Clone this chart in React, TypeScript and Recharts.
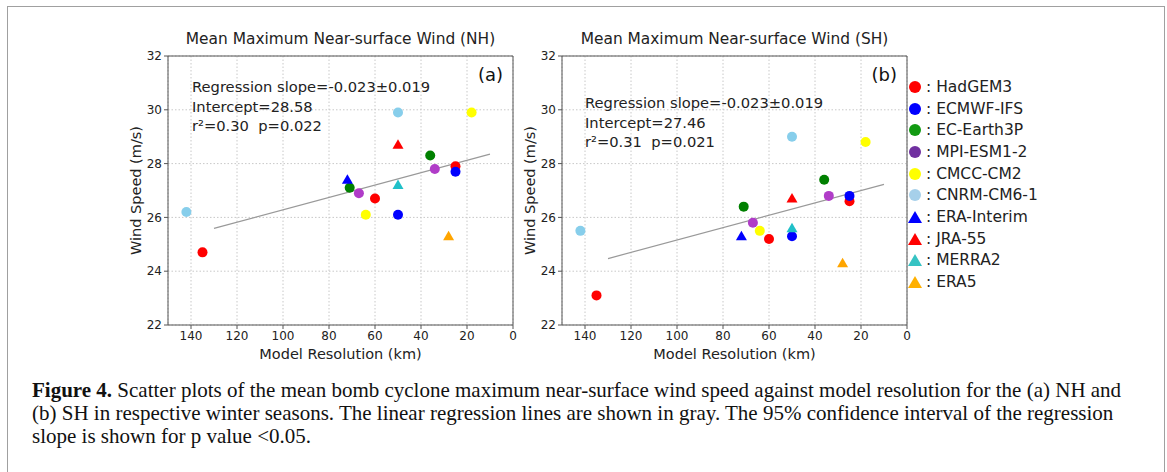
import React from 'react';
import { ScatterChart, Scatter, XAxis, YAxis, CartesianGrid, ReferenceLine } from 'recharts';

// model resolution (km)
const hadgemRes = [135, 60, 25];
const ecmwfRes = [50, 25];
const ecearthRes = [71, 36];
const mpiRes = [67, 34];
const cmccRes = [64, 18];
const cnrmRes = [142, 50];
const eraiRes = [72];
const jraRes = [50];
const merraRes = [50];
const era5Res = [28];

// mean max near-surface wind, NH (m/s)
const hadgemNH = [24.7, 26.7, 27.9];
const ecmwfNH = [26.1, 27.7];
const ecearthNH = [27.1, 28.3];
const mpiNH = [26.9, 27.8];
const cmccNH = [26.1, 29.9];
const cnrmNH = [26.2, 29.9];
const eraiNH = [27.4];
const jraNH = [28.7];
const merraNH = [27.2];
const era5NH = [25.3];

// mean max near-surface wind, SH (m/s)
const hadgemSH = [23.1, 25.2, 26.6];
const ecmwfSH = [25.3, 26.8];
const ecearthSH = [26.4, 27.4];
const mpiSH = [25.8, 26.8];
const cmccSH = [25.5, 28.8];
const cnrmSH = [25.5, 29.0];
const eraiSH = [25.3];
const jraSH = [26.7];
const merraSH = [25.6];
const era5SH = [24.3];

// regression line end points
const fitRes = [130, 10];
const fitNH = [25.59, 28.35];
const fitSH = [24.47, 27.23];

const xTicks = [0, 20, 40, 60, 80, 100, 120, 140];
const yTicks = [22, 24, 26, 28, 30, 32];

const series = [
  { name: 'HadGEM3', color: '#ff0000', key: '#ff0000', tri: false, res: hadgemRes, nh: hadgemNH, sh: hadgemSH },
  { name: 'ECMWF-IFS', color: '#0000ff', key: '#0000ff', tri: false, res: ecmwfRes, nh: ecmwfNH, sh: ecmwfSH },
  { name: 'EC-Earth3P', color: '#008000', key: '#129a12', tri: false, res: ecearthRes, nh: ecearthNH, sh: ecearthSH },
  { name: 'MPI-ESM1-2', color: '#b03cc8', key: '#7030a0', tri: false, res: mpiRes, nh: mpiNH, sh: mpiSH },
  { name: 'CMCC-CM2', color: '#ffff00', key: '#ffff00', tri: false, res: cmccRes, nh: cmccNH, sh: cmccSH },
  { name: 'CNRM-CM6-1', color: '#87ceeb', key: '#a6d0ea', tri: false, res: cnrmRes, nh: cnrmNH, sh: cnrmSH },
  { name: 'ERA-Interim', color: '#0000ff', key: '#0000ff', tri: true, res: eraiRes, nh: eraiNH, sh: eraiSH },
  { name: 'JRA-55', color: '#ff0000', key: '#ff0000', tri: true, res: jraRes, nh: jraNH, sh: jraSH },
  { name: 'MERRA2', color: '#20c0c8', key: '#36c3c3', tri: true, res: merraRes, nh: merraNH, sh: merraSH },
  { name: 'ERA5', color: '#ffa500', key: '#ffb000', tri: true, res: era5Res, nh: era5NH, sh: era5SH },
];

const FONT = '"DejaVu Sans", sans-serif';
const SPINE = '#555';

const zip = (xs: number[], ys: number[]) => xs.map((x, i) => ({ res: x, wind: ys[i] }));

const marker = (color: string, tri: boolean) => (props: any) => {
  const { cx, cy } = props;
  if (tri) {
    return <polygon points={`${cx},${cy - 5.5} ${cx - 5.5},${cy + 4} ${cx + 5.5},${cy + 4}`} fill={color} />;
  }
  return <circle cx={cx} cy={cy} r={5} fill={color} />;
};

const Panel = (props: any) => {
  const { left, hemi, title, lines, letter, textLeft, textTop } = props;
  const fit = zip(fitRes, hemi === 'nh' ? fitNH : fitSH);
  return (
    <div style={{ position: 'absolute', left, top: 20, width: 430, height: 345 }}>
      <ScatterChart width={430} height={345} margin={{ top: 36, right: 17, bottom: 8, left: 8 }}>
        <CartesianGrid stroke="#c8c8c8" strokeDasharray="1.5 2" />
        <XAxis
          type="number"
          dataKey="res"
          domain={[0, 150]}
          reversed
          ticks={xTicks}
          height={32}
          tickSize={4}
          tickMargin={2}
          axisLine={{ stroke: SPINE }}
          tickLine={{ stroke: SPINE }}
          tick={{ fontSize: 12, fill: '#222', fontFamily: FONT }}
          label={{ value: 'Model Resolution (km)', position: 'insideBottom', offset: -2, fontSize: 14.5, fill: '#222', fontFamily: FONT }}
        />
        <YAxis
          type="number"
          dataKey="wind"
          domain={[22, 32]}
          ticks={yTicks}
          width={60}
          tickSize={4}
          tickMargin={2}
          axisLine={{ stroke: SPINE }}
          tickLine={{ stroke: SPINE }}
          tick={{ fontSize: 12, fill: '#222', fontFamily: FONT }}
          label={{ value: 'Wind Speed (m/s)', angle: -90, position: 'center', dx: -2, fontSize: 14.5, fill: '#222', fontFamily: FONT }}
        />
        <ReferenceLine y={32} stroke={SPINE} />
        <ReferenceLine x={0} stroke={SPINE} />
        <Scatter
          data={fit}
          line={{ stroke: '#999', strokeWidth: 1.2 }}
          shape={() => <g />}
          isAnimationActive={false}
        />
        {series.map((s) => (
          <Scatter
            key={s.name}
            name={s.name}
            data={zip(s.res, hemi === 'nh' ? s.nh : s.sh)}
            shape={marker(s.color, s.tri)}
            isAnimationActive={false}
          />
        ))}
      </ScatterChart>
      <div style={{ position: 'absolute', left: 68, top: 10, width: 345, textAlign: 'center', fontFamily: FONT, fontSize: 15.4, color: '#222', whiteSpace: 'nowrap' }}>
        {title}
      </div>
      <div style={{ position: 'absolute', left: textLeft, top: textTop, fontFamily: FONT, fontSize: 14.7, lineHeight: '19.7px', color: '#222', whiteSpace: 'pre' }}>
        {lines.map((l: string) => (
          <div key={l}>{l}</div>
        ))}
      </div>
      <div style={{ position: 'absolute', right: 27, top: 44, fontFamily: FONT, fontSize: 18, color: '#111' }}>{letter}</div>
    </div>
  );
};

const Legend = () => (
  <div style={{ position: 'absolute', left: 907, top: 76, fontFamily: FONT, fontSize: 15.5, color: '#222' }}>
    {series.map((s) => (
      <div key={s.name} style={{ height: 21.7, display: 'flex', alignItems: 'center', whiteSpace: 'nowrap' }}>
        <svg width={18} height={16} style={{ marginRight: 1 }}>
          {s.tri ? (
            <polygon points="8,2 1,14 15,14" fill={s.key} />
          ) : (
            <circle cx={8} cy={8} r={6} fill={s.key} />
          )}
        </svg>
        <span>: {s.name}</span>
      </div>
    ))}
  </div>
);

export default function App() {
  return (
    <div style={{ position: 'absolute', left: 0, top: 0, width: 1167, height: 472, overflow: 'hidden', background: '#fff' }}>
      <div style={{ position: 'absolute', left: 7, top: 6, width: 1156, height: 500, border: '1px solid #a0a0a0' }} />
      <Panel
        left={100}
        hemi="nh"
        title="Mean Maximum Near-surface Wind (NH)"
        lines={['Regression slope=-0.023±0.019', 'Intercept=28.58', 'r²=0.30  p=0.022']}
        letter="(a)"
        textLeft={92}
        textTop={57}
      />
      <Panel
        left={494}
        hemi="sh"
        title="Mean Maximum Near-surface Wind (SH)"
        lines={['Regression slope=-0.023±0.019', 'Intercept=27.46', 'r²=0.31  p=0.021']}
        letter="(b)"
        textLeft={91}
        textTop={73}
      />
      <Legend />
      <div style={{ position: 'absolute', left: 32, top: 379, fontFamily: '"Liberation Serif", serif', fontSize: 21, lineHeight: '23px', color: '#111', whiteSpace: 'nowrap' }}>
        <b>Figure 4.</b> Scatter plots of the mean bomb cyclone maximum near-surface wind speed against model resolution for the (a) NH and
        <br />
        (b) SH in respective winter seasons. The linear regression lines are shown in gray. The 95% confidence interval of the regression
        <br />
        slope is shown for p value &lt;0.05.
      </div>
    </div>
  );
}
